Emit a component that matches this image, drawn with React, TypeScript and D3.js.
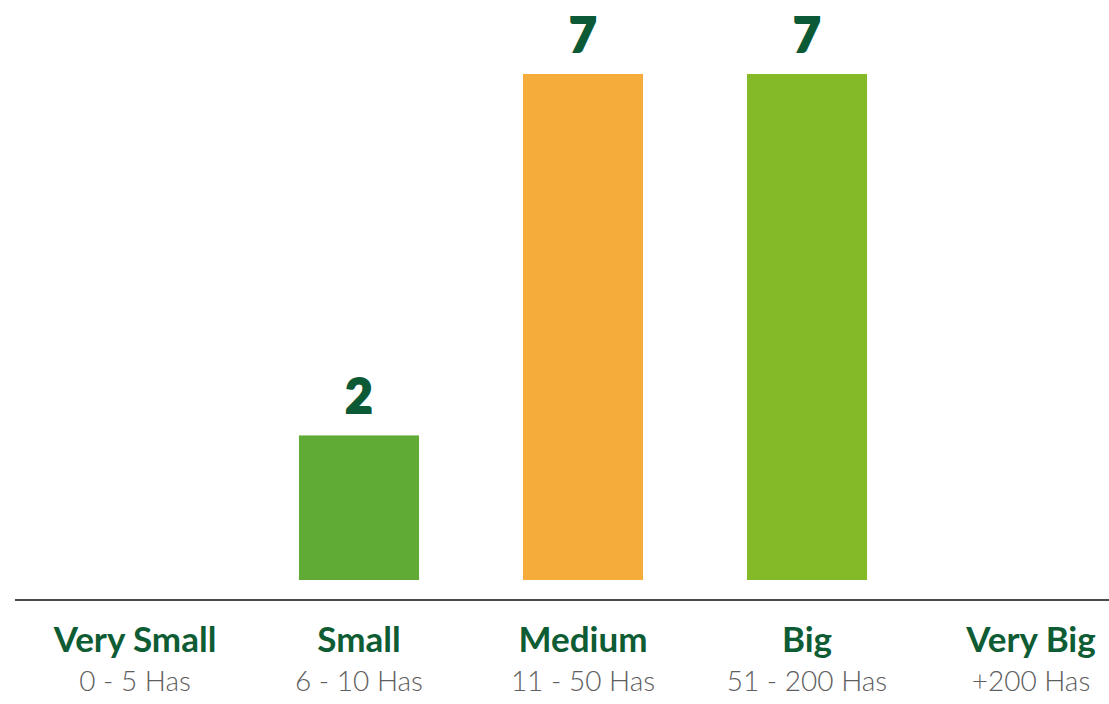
import React from "react";
import * as d3 from "d3";

const categories = ["Very Small", "Small", "Medium", "Big", "Very Big"];
const ranges = ["0 - 5 Has", "6 - 10 Has", "11 - 50 Has", "51 - 200 Has", "+200 Has"];
const values = [0, 2, 7, 7, 0];
const barColors = ["#5fab36", "#5fab36", "#f6ac3a", "#84b928", "#84b928"];

const W = 1109;
const H = 704;

export default function App() {
  const x = d3
    .scaleBand<string>()
    .domain(categories)
    .range([23, 1143])
    .paddingInner(0.464)
    .paddingOuter(0.232)
    .align(0.5);
  const y = d3.scaleLinear().domain([0, 7]).range([580, 74]);

  return (
    <div style={{ position: "absolute", left: 0, top: 0, width: W, height: H, background: "#fff" }}>
      <svg width={W} height={H} style={{ display: "block" }}>
        <rect width={W} height={H} fill="#ffffff" />
        {categories.map((c, i) =>
          values[i] > 0 ? (
            <g key={c}>
              <rect
                x={x(c)}
                y={y(values[i])}
                width={x.bandwidth()}
                height={y(0) - y(values[i])}
                fill={barColors[i]}
              />
              <text
                x={(x(c) as number) + x.bandwidth() / 2}
                y={y(values[i]) - 22}
                textAnchor="middle"
                fontFamily="Lato, 'Open Sans', sans-serif"
                fontWeight={900}
                fontSize={47}
                fill="#0b5a35"
                stroke="#0b5a35"
                strokeWidth={2}
              >
                {values[i]}
              </text>
            </g>
          ) : null
        )}
        <line x1={15} x2={W} y1={600} y2={600} stroke="#4a4a4a" strokeWidth={2} />
        {categories.map((c, i) => {
          const cx = (x(c) as number) + x.bandwidth() / 2;
          return (
            <g key={"l" + c}>
              <text
                x={cx}
                y={652}
                textAnchor="middle"
                fontFamily="Lato, sans-serif"
                fontWeight={700}
                fontSize={35}
                fill="#0e5c33"
              >
                {c}
              </text>
              <text
                x={cx}
                y={691}
                textAnchor="middle"
                fontFamily="Lato, sans-serif"
                fontWeight={300}
                fontSize={28}
                fill="#5e5e5e"
              >
                {ranges[i]}
              </text>
            </g>
          );
        })}
      </svg>
    </div>
  );
}
